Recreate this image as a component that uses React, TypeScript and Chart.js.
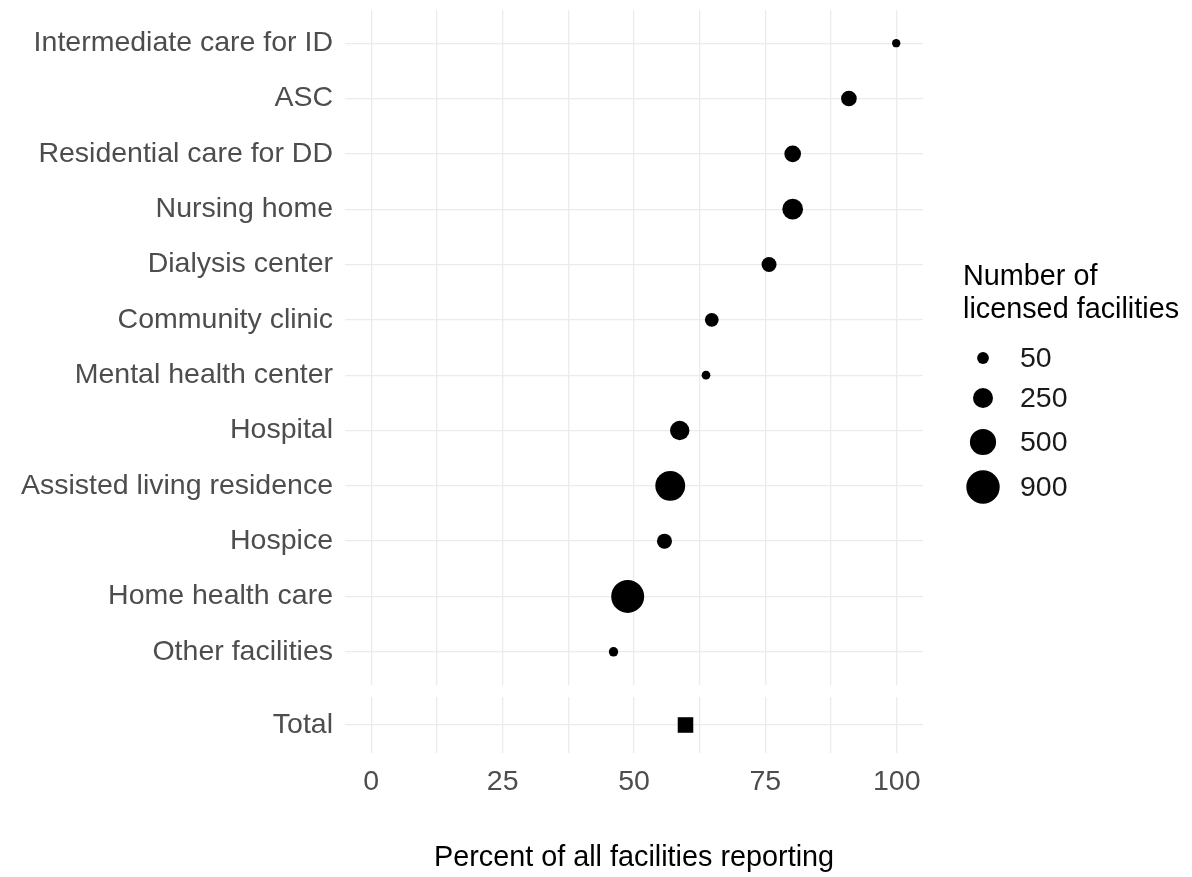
import React, { useEffect, useRef } from 'react';
import { Chart, registerables } from 'chart.js';

Chart.register(...registerables);

// ---- Data ----
const categories = [
  'Intermediate care for ID',
  'ASC',
  'Residential care for DD',
  'Nursing home',
  'Dialysis center',
  'Community clinic',
  'Mental health center',
  'Hospital',
  'Assisted living residence',
  'Hospice',
  'Home health care',
  'Other facilities',
];
const percentReporting = [99.9, 90.9, 80.2, 80.2, 75.7, 64.8, 63.7, 58.7, 56.9, 55.8, 48.8, 46.1];
const licensedFacilities = [12, 125, 151, 273, 110, 85, 15, 230, 690, 110, 870, 21];

const totalCategories = ['Total'];
const totalPercent = [59.8];

const xGridTicks = [0, 12.5, 25, 37.5, 50, 62.5, 75, 87.5, 100];
const xLabelTicks = [0, 25, 50, 75, 100];
const xTitle = 'Percent of all facilities reporting';

const legendTitle = ['Number of', 'licensed facilities'];
const legendSizes = [50, 250, 500, 900];

// ---- Styles ----
const FONT = '"Liberation Sans", Arial, sans-serif';
const AXIS_SIZE = 28.5;
const TITLE_SIZE = 28.8;
const GRID = '#EBEBEB';
const AXIS_TEXT = '#4D4D4D';
const MAIN_H = 685;
const TOTAL_H = 877 - MAIN_H;

const sizeToRadius = (n: number) => 2.54 + 0.472 * Math.sqrt(n);

const legendPlugin = {
  id: 'sizeLegend',
  afterDraw(chart: any) {
    const ctx = chart.ctx as CanvasRenderingContext2D;
    ctx.save();
    ctx.fillStyle = '#000';
    ctx.font = `${TITLE_SIZE}px ${FONT}`;
    ctx.textBaseline = 'middle';
    ctx.textAlign = 'left';
    legendTitle.forEach((t, i) => ctx.fillText(t, 963, 277 + i * 33));
    const ys = [358, 398, 442, 487];
    ctx.font = `${AXIS_SIZE}px ${FONT}`;
    legendSizes.forEach((n, i) => {
      ctx.beginPath();
      ctx.arc(983, ys[i], sizeToRadius(n), 0, Math.PI * 2);
      ctx.fillStyle = '#000';
      ctx.fill();
      ctx.fillStyle = '#1A1A1A';
      ctx.fillText(String(n), 1020, ys[i] + 1);
    });
    ctx.restore();
  },
};

const xScaleBase = (showLabels: boolean) => ({
  type: 'linear' as const,
  min: -5,
  max: 105,
  afterBuildTicks: (s: any) => {
    s.ticks = xGridTicks.map((v) => ({ value: v }));
  },
  grid: { color: GRID, lineWidth: 1.3, drawTicks: false },
  border: { display: false },
  ticks: {
    display: showLabels,
    autoSkip: false,
    maxRotation: 0,
    padding: 12,
    color: AXIS_TEXT,
    font: { family: FONT, size: AXIS_SIZE },
    callback: (v: any) => (xLabelTicks.includes(Number(v)) ? String(v) : ''),
  },
});

export default function App() {
  const mainRef = useRef<HTMLCanvasElement>(null);
  const totalRef = useRef<HTMLCanvasElement>(null);

  useEffect(() => {
    const main = new Chart(mainRef.current as HTMLCanvasElement, {
      type: 'scatter',
      data: {
        datasets: [
          {
            data: categories.map((_, i) => ({ x: percentReporting[i], y: i + 1 })),
            pointRadius: licensedFacilities.map(sizeToRadius),
            pointHoverRadius: licensedFacilities.map(sizeToRadius),
            pointBackgroundColor: '#000',
            pointBorderWidth: 0,
            pointStyle: 'circle',
          },
        ],
      },
      options: {
        animation: false,
        responsive: false,
        devicePixelRatio: 1,
        events: [],
        layout: { autoPadding: false, padding: { left: 0, top: 10, right: 1192 - 923, bottom: 0 } },
        plugins: { legend: { display: false }, tooltip: { enabled: false } },
        scales: {
          x: {
            ...xScaleBase(false),
            afterFit: (s: any) => {
              s.height = 0;
              s.paddingLeft = 0;
              s.paddingRight = 0;
            },
          },
          y: {
            type: 'linear',
            reverse: true,
            min: 0.4,
            max: 12.6,
            afterBuildTicks: (s: any) => {
              s.ticks = categories.map((_, i) => ({ value: i + 1 }));
            },
            afterFit: (s: any) => {
              s.width = 345;
              s.paddingTop = 0;
              s.paddingBottom = 0;
            },
            grid: { color: GRID, lineWidth: 1.3, drawTicks: false },
            border: { display: false },
            ticks: {
              autoSkip: false,
              padding: 12,
              color: AXIS_TEXT,
              font: { family: FONT, size: AXIS_SIZE },
              callback: (v: any) => categories[Number(v) - 1] ?? '',
            },
          },
        },
      },
      plugins: [legendPlugin],
    } as any);

    const total = new Chart(totalRef.current as HTMLCanvasElement, {
      type: 'scatter',
      data: {
        datasets: [
          {
            data: totalCategories.map((_, i) => ({ x: totalPercent[i], y: i + 1 })),
            pointRadius: 11,
            pointHoverRadius: 11,
            pointBackgroundColor: '#000',
            pointBorderWidth: 0,
            pointStyle: 'rect',
          },
        ],
      },
      options: {
        animation: false,
        responsive: false,
        devicePixelRatio: 1,
        events: [],
        layout: { autoPadding: false, padding: { left: 0, top: 697 - MAIN_H, right: 1192 - 923, bottom: 0 } },
        plugins: { legend: { display: false }, tooltip: { enabled: false } },
        scales: {
          x: {
            ...xScaleBase(true),
            title: {
              display: true,
              text: xTitle,
              color: '#000',
              font: { family: FONT, size: TITLE_SIZE },
              padding: { top: 0, bottom: 2 },
            },
            afterFit: (s: any) => {
              s.height = 877 - 753;
              s.paddingLeft = 0;
              s.paddingRight = 0;
            },
          },
          y: {
            type: 'linear',
            min: 0.4,
            max: 1.6,
            afterBuildTicks: (s: any) => {
              s.ticks = totalCategories.map((_, i) => ({ value: i + 1 }));
            },
            afterFit: (s: any) => {
              s.width = 345;
              s.paddingTop = 0;
              s.paddingBottom = 0;
            },
            grid: { color: GRID, lineWidth: 1.3, drawTicks: false },
            border: { display: false },
            ticks: {
              autoSkip: false,
              padding: 12,
              color: AXIS_TEXT,
              font: { family: FONT, size: AXIS_SIZE },
              callback: (v: any) => totalCategories[Number(v) - 1] ?? '',
            },
          },
        },
      },
    } as any);

    return () => {
      main.destroy();
      total.destroy();
    };
  }, []);

  return (
    <div style={{ position: 'absolute', left: 0, top: 0, width: 1192, height: 877, background: '#fff' }}>
      <canvas ref={mainRef} width={1192} height={MAIN_H} style={{ position: 'absolute', left: 0, top: 0 }} />
      <canvas ref={totalRef} width={1192} height={TOTAL_H} style={{ position: 'absolute', left: 0, top: MAIN_H }} />
    </div>
  );
}
